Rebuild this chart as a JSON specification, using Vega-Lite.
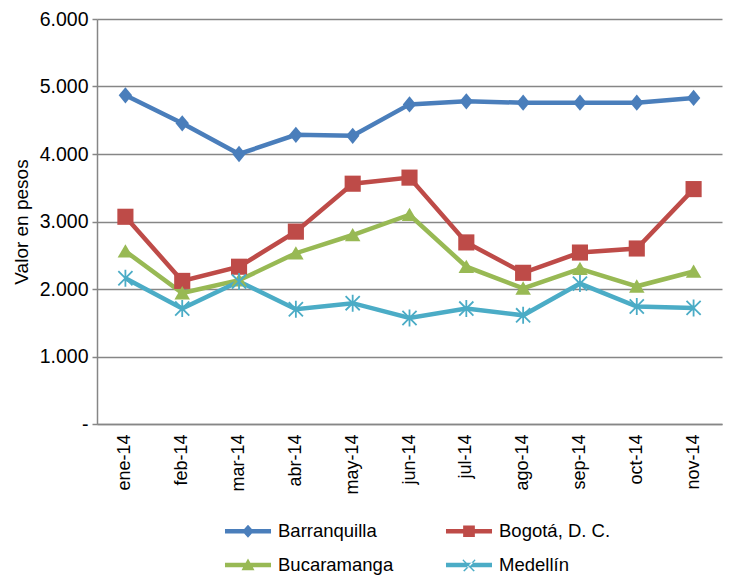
{
  "$schema": "https://vega.github.io/schema/vega-lite/v6.json",
  "width": 625,
  "height": 405,
  "autosize": {"type": "none"},
  "padding": {"left": 97, "top": 19, "right": 8, "bottom": 152},
  "background": "white",
  "config": {
    "font": "Liberation Sans",
    "view": {"stroke": null},
    "axis": {"labelFont": "Liberation Sans", "titleFont": "Liberation Sans", "labelColor": "black", "titleColor": "black"}
  },
  "data": {
    "values": [
      {"mes": "ene-14", "ciudad": "Barranquilla", "valor": 4870},
      {"mes": "feb-14", "ciudad": "Barranquilla", "valor": 4455},
      {"mes": "mar-14", "ciudad": "Barranquilla", "valor": 4000},
      {"mes": "abr-14", "ciudad": "Barranquilla", "valor": 4285},
      {"mes": "may-14", "ciudad": "Barranquilla", "valor": 4270},
      {"mes": "jun-14", "ciudad": "Barranquilla", "valor": 4735},
      {"mes": "jul-14", "ciudad": "Barranquilla", "valor": 4780},
      {"mes": "ago-14", "ciudad": "Barranquilla", "valor": 4760},
      {"mes": "sep-14", "ciudad": "Barranquilla", "valor": 4760},
      {"mes": "oct-14", "ciudad": "Barranquilla", "valor": 4760},
      {"mes": "nov-14", "ciudad": "Barranquilla", "valor": 4830},
      {"mes": "ene-14", "ciudad": "Bogotá, D. C.", "valor": 3070},
      {"mes": "feb-14", "ciudad": "Bogotá, D. C.", "valor": 2120},
      {"mes": "mar-14", "ciudad": "Bogotá, D. C.", "valor": 2330},
      {"mes": "abr-14", "ciudad": "Bogotá, D. C.", "valor": 2850},
      {"mes": "may-14", "ciudad": "Bogotá, D. C.", "valor": 3560},
      {"mes": "jun-14", "ciudad": "Bogotá, D. C.", "valor": 3650},
      {"mes": "jul-14", "ciudad": "Bogotá, D. C.", "valor": 2690},
      {"mes": "ago-14", "ciudad": "Bogotá, D. C.", "valor": 2240},
      {"mes": "sep-14", "ciudad": "Bogotá, D. C.", "valor": 2540},
      {"mes": "oct-14", "ciudad": "Bogotá, D. C.", "valor": 2600},
      {"mes": "nov-14", "ciudad": "Bogotá, D. C.", "valor": 3480},
      {"mes": "ene-14", "ciudad": "Bucaramanga", "valor": 2560},
      {"mes": "feb-14", "ciudad": "Bucaramanga", "valor": 1940},
      {"mes": "mar-14", "ciudad": "Bucaramanga", "valor": 2130},
      {"mes": "abr-14", "ciudad": "Bucaramanga", "valor": 2530},
      {"mes": "may-14", "ciudad": "Bucaramanga", "valor": 2800},
      {"mes": "jun-14", "ciudad": "Bucaramanga", "valor": 3100},
      {"mes": "jul-14", "ciudad": "Bucaramanga", "valor": 2330},
      {"mes": "ago-14", "ciudad": "Bucaramanga", "valor": 2010},
      {"mes": "sep-14", "ciudad": "Bucaramanga", "valor": 2300},
      {"mes": "oct-14", "ciudad": "Bucaramanga", "valor": 2040},
      {"mes": "nov-14", "ciudad": "Bucaramanga", "valor": 2260},
      {"mes": "ene-14", "ciudad": "Medellín", "valor": 2160},
      {"mes": "feb-14", "ciudad": "Medellín", "valor": 1710},
      {"mes": "mar-14", "ciudad": "Medellín", "valor": 2110},
      {"mes": "abr-14", "ciudad": "Medellín", "valor": 1700},
      {"mes": "may-14", "ciudad": "Medellín", "valor": 1790},
      {"mes": "jun-14", "ciudad": "Medellín", "valor": 1570},
      {"mes": "jul-14", "ciudad": "Medellín", "valor": 1710},
      {"mes": "ago-14", "ciudad": "Medellín", "valor": 1610},
      {"mes": "sep-14", "ciudad": "Medellín", "valor": 2080},
      {"mes": "oct-14", "ciudad": "Medellín", "valor": 1740},
      {"mes": "nov-14", "ciudad": "Medellín", "valor": 1720}
    ]
  },
  "encoding": {
    "x": {
      "field": "mes", "type": "ordinal", "sort": null,
      "scale": {"type": "band", "paddingInner": 0, "paddingOuter": 0},
      "axis": {
        "title": null, "labelAngle": -90, "labelAlign": "right", "labelBaseline": "middle",
        "labelFontSize": 18, "labelPadding": 10, "ticks": false,
        "domainColor": "#868686", "domainWidth": 1.5, "grid": false
      }
    },
    "y": {
      "field": "valor", "type": "quantitative",
      "scale": {"domain": [0, 6000], "nice": false, "zero": true},
      "axis": {
        "title": "Valor en pesos", "titleFontSize": 19, "titleFontWeight": "normal", "titlePadding": 8,
        "values": [0, 1000, 2000, 3000, 4000, 5000, 6000],
        "labelExpr": "datum.value == 0 ? '-' : replace(format(datum.value, ','), ',', '.')",
        "labelFontSize": 19.5, "labelPadding": 4, "tickSize": 5, "tickColor": "#868686", "tickWidth": 1.5,
        "domainColor": "#868686", "domainWidth": 1.5,
        "grid": true, "gridColor": "#868686", "gridWidth": 1.5
      }
    },
    "color": {
      "field": "ciudad", "type": "nominal",
      "scale": {
        "domain": ["Barranquilla", "Bogotá, D. C.", "Bucaramanga", "Medellín"],
        "range": ["#4A7EBB", "#BE4B48", "#98B954", "#4BACC6"]
      },
      "legend": {
        "title": null, "orient": "none", "legendX": 138, "legendY": 499,
        "direction": "horizontal", "columns": 2, "columnPadding": 51, "rowPadding": 11,
        "symbolSize": 676, "labelOffset": 17, "labelFontSize": 18.5, "labelFont": "Liberation Sans",
        "labelColor": "black",
        "encode": {
          "symbols": {
            "update": {
              "fill": {"scale": "color", "field": "value"},
              "stroke": {"value": "transparent"},
              "strokeWidth": {"value": 0},
              "opacity": {"value": 1},
              "shape": {"scale": "shape", "field": "value"},
              "size": {"value": 676}
            }
          }
        }
      }
    }
  },
  "layer": [
    {
      "mark": {"type": "line", "strokeWidth": 4.5}
    },
    {
      "transform": [{"filter": "datum.ciudad == 'Barranquilla'"}],
      "mark": {"type": "point", "filled": true, "opacity": 1, "shape": "M0,-1.15L0.95,0L0,1.15L-0.95,0Z", "size": 200}
    },
    {
      "transform": [{"filter": "datum.ciudad == 'Bogotá, D. C.'"}],
      "mark": {"type": "point", "filled": true, "opacity": 1, "shape": "square", "size": 260}
    },
    {
      "transform": [{"filter": "datum.ciudad == 'Bucaramanga'"}],
      "mark": {"type": "point", "filled": true, "opacity": 1, "shape": "M0,-1L1.1,0.9L-1.1,0.9Z", "size": 200}
    },
    {
      "transform": [{"filter": "datum.ciudad == 'Medellín'"}],
      "mark": {"type": "point", "filled": false, "opacity": 1, "strokeWidth": 1.8, "shape": "M-1,-1L1,1M-1,1L1,-1M0,-1.2L0,1.2", "size": 200}
    },
    {
      "transform": [{"filter": "false"}],
      "mark": {"type": "point", "filled": true, "opacity": 1},
      "encoding": {
        "shape": {
          "field": "ciudad", "type": "nominal", "legend": null,
          "scale": {
            "domain": ["Barranquilla", "Bogotá, D. C.", "Bucaramanga", "Medellín"],
            "range": [
              "M-1.77,-0.17L1.77,-0.17L1.77,0.17L-1.77,0.17Z M0,-0.5L0.45,0L0,0.5L-0.45,0Z",
              "M-1.77,-0.17L1.77,-0.17L1.77,0.17L-1.77,0.17Z M-0.45,-0.45L0.45,-0.45L0.45,0.45L-0.45,0.45Z",
              "M-1.77,-0.17L1.77,-0.17L1.77,0.17L-1.77,0.17Z M0,-0.5L0.5,0.4L-0.5,0.4Z",
              "M-1.77,-0.17L1.77,-0.17L1.77,0.17L-1.77,0.17Z M-0.45,-0.45L0.45,0.45L0.35,0.5L-0.5,-0.35Z M0.45,-0.45L-0.45,0.45L-0.35,0.5L0.5,-0.35Z"
            ]
          }
        }
      }
    }
  ]
}
